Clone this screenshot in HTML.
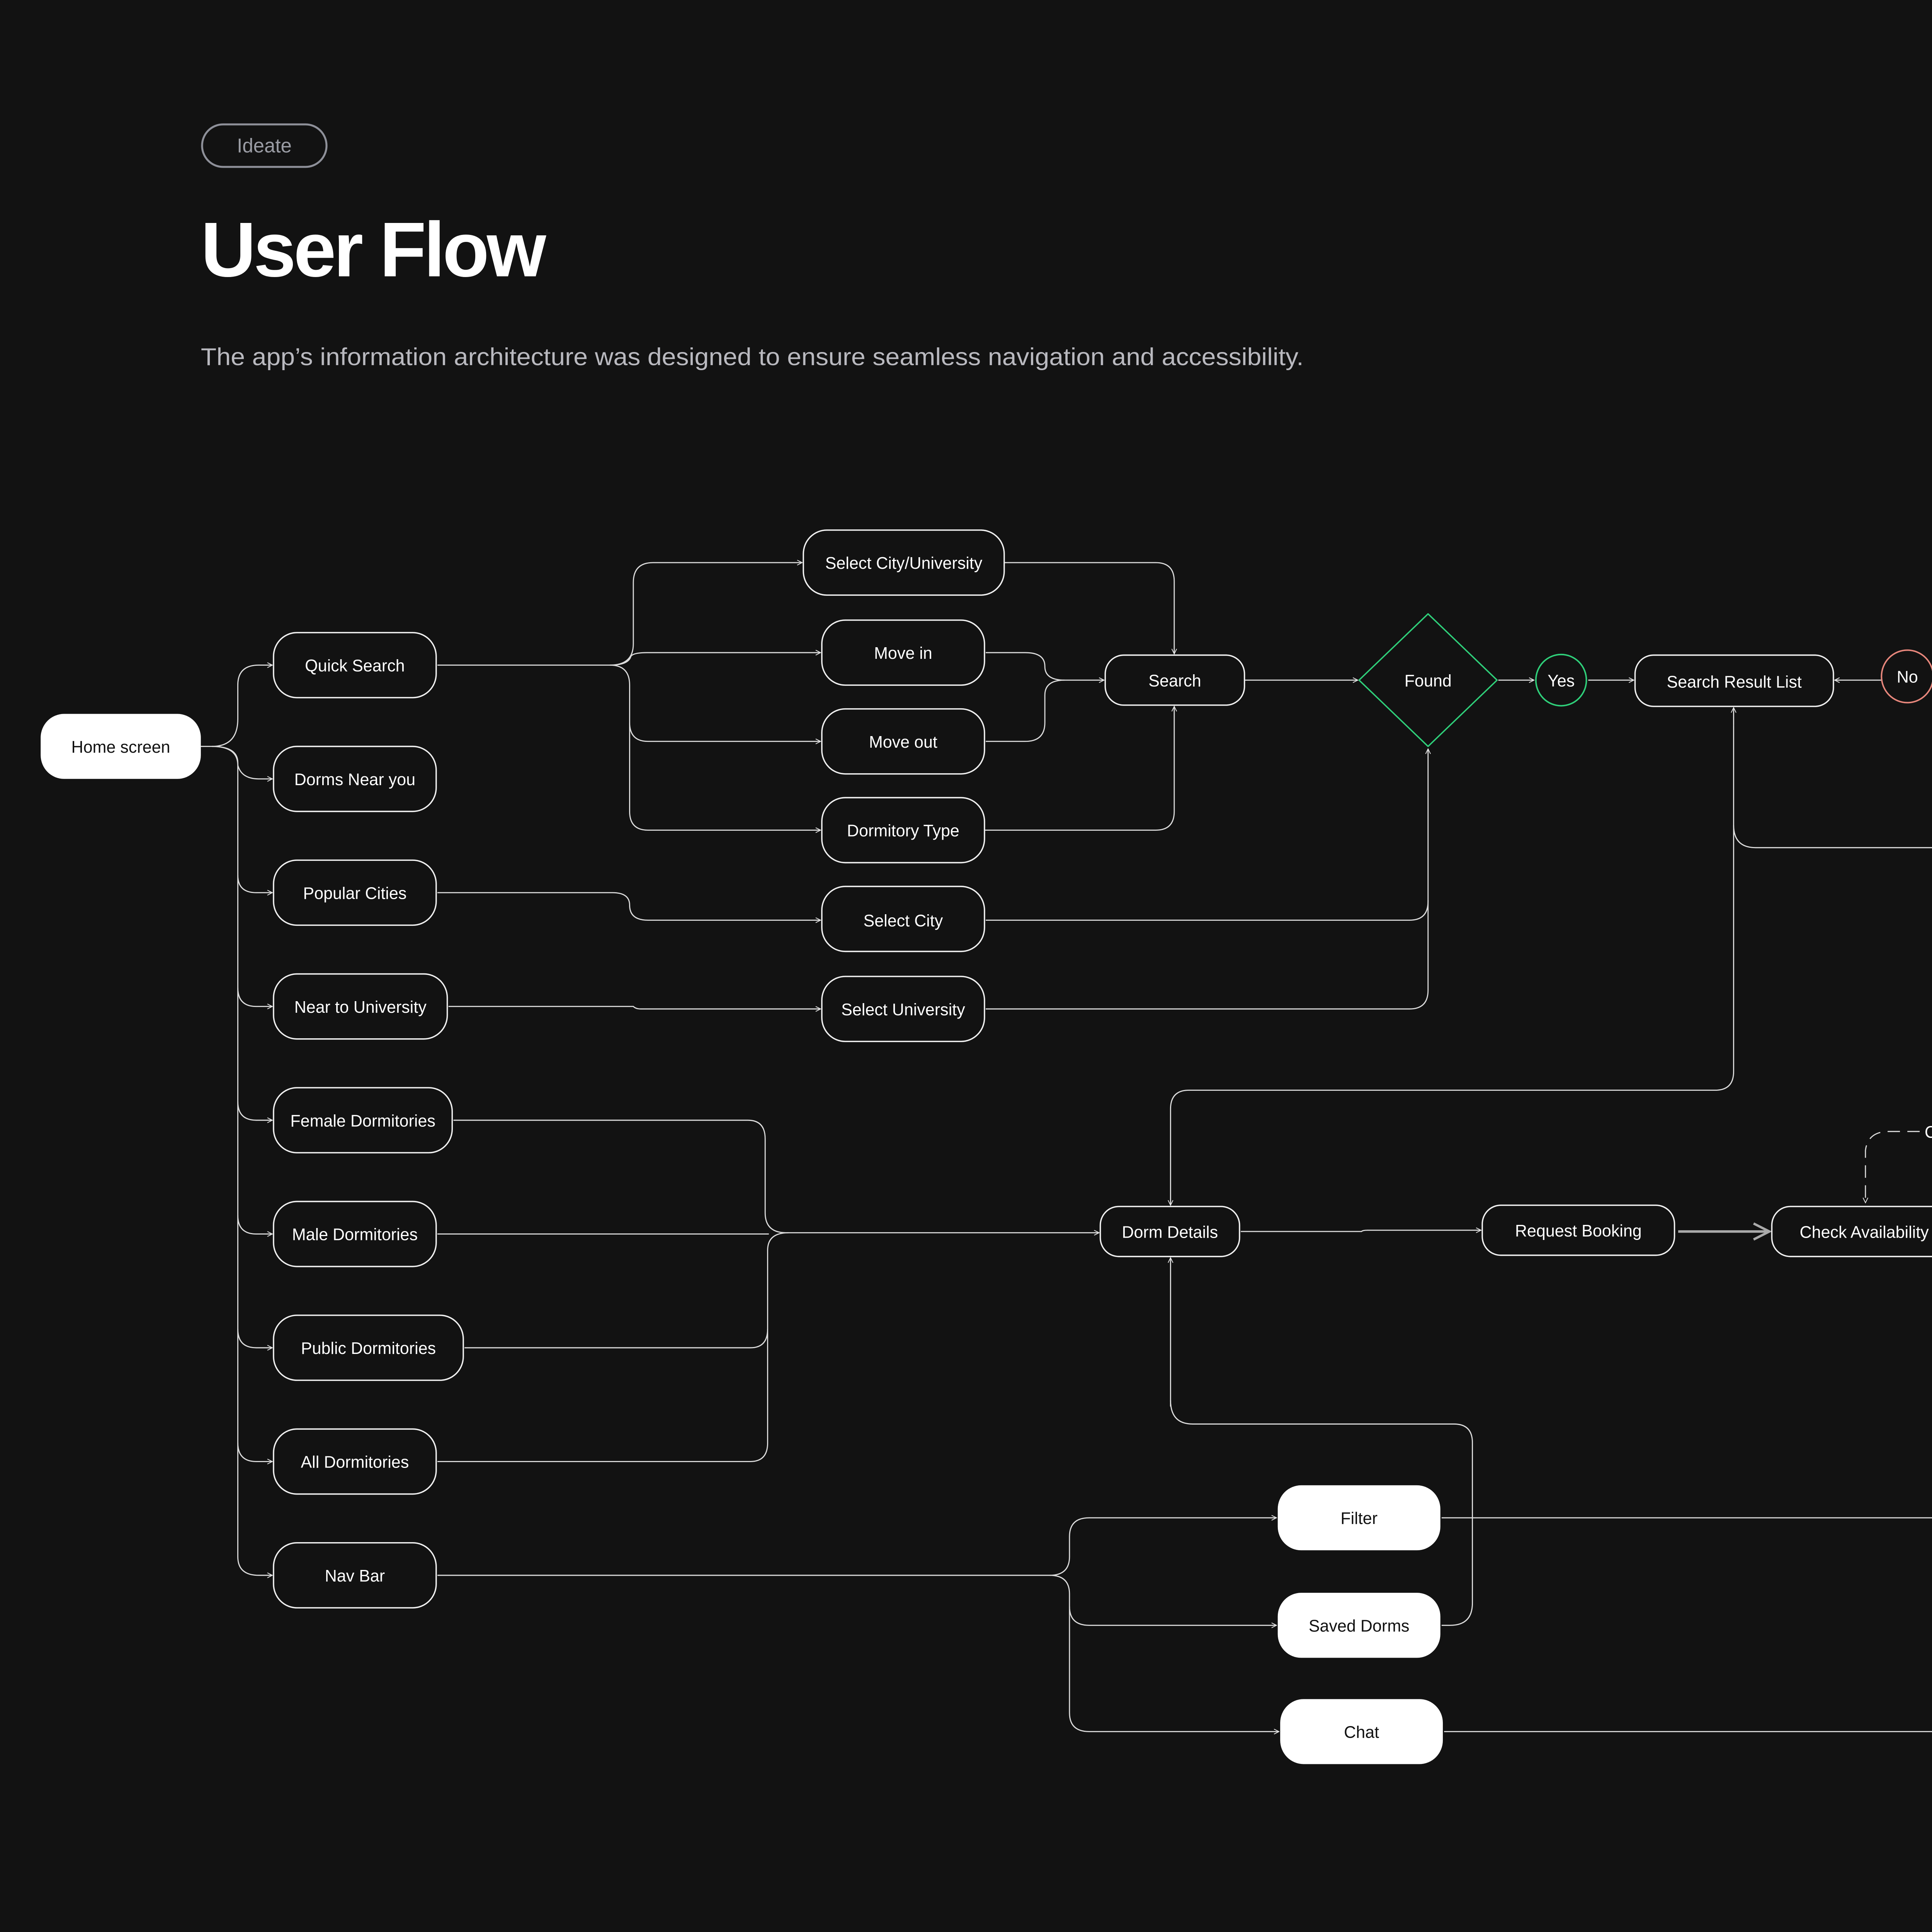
<!DOCTYPE html>
<html><head><meta charset="utf-8"><style>
html,body{margin:0;padding:0;background:#121212;width:100vw;height:100vh;overflow:hidden;}
svg{display:block;width:100vw;height:100vh;overflow:hidden;position:absolute;left:0;top:0}
text{font-family:"Liberation Sans",sans-serif;}
</style></head><body>
<svg viewBox="0 0 1568 1545.3" preserveAspectRatio="none" xmlns="http://www.w3.org/2000/svg">
<defs>
<marker id="a" viewBox="0 0 10 10" refX="9" refY="5" markerWidth="5" markerHeight="5" orient="auto" markerUnits="userSpaceOnUse"><path d="M1 1 L9 5 L1 9" fill="none" stroke="#e8e8e8" stroke-width="1.2"/></marker>
<marker id="b" viewBox="0 0 10 10" refX="9" refY="5" markerWidth="16" markerHeight="16" orient="auto" markerUnits="userSpaceOnUse"><path d="M1 1 L9 5 L1 9" fill="none" stroke="#aaa" stroke-width="1.2"/></marker>
</defs>
<rect width="1568" height="1546" fill="#121212"/>
<rect x="164" y="99.5" width="101" height="34" rx="17" fill="none" stroke="#8e9099" stroke-width="1.6"/>
<text x="214.5" y="122" font-size="16" fill="#9a9ca4" text-anchor="middle">Ideate</text>
<text x="163" y="221" font-size="62" font-weight="bold" fill="#fff" letter-spacing="-2">User Flow</text>
<text x="163" y="292" font-size="19.5" fill="#b9b9bf" textLength="895" lengthAdjust="spacingAndGlyphs">The app’s information architecture was designed to ensure seamless navigation and accessibility.</text>

<g fill="none" stroke="#dcdcdc" stroke-width="0.9">
<path d="M163 597 H172 Q193 597 193 575 V548 Q193 532 210 532 H221" marker-end="url(#a)"/>
<path d="M172 597 Q193 597 193 610 V1245 Q193 1260 210 1260 H221" marker-end="url(#a)"/>
<path d="M172 597 Q193 597 193 612 Q196 623 210 623 H221" marker-end="url(#a)"/>
<path d="M193 700 Q193 714 208 714 H221" marker-end="url(#a)"/>
<path d="M193 790 Q193 805 208 805 H221" marker-end="url(#a)"/>
<path d="M193 881 Q193 896 208 896 H221" marker-end="url(#a)"/>
<path d="M193 972 Q193 987 208 987 H221" marker-end="url(#a)"/>
<path d="M193 1063 Q193 1078 208 1078 H221" marker-end="url(#a)"/>
<path d="M193 1154 Q193 1169 208 1169 H221" marker-end="url(#a)"/>
<path d="M355 532 H495 Q514 532 514 515 V466 Q514 450 530 450 H651" marker-end="url(#a)"/>
<path d="M495 532 Q510 532 512 525 Q514 522 525 522 H666" marker-end="url(#a)"/>
<path d="M495 532 Q511 532 511 548 V578 Q511 593 526 593 H666" marker-end="url(#a)"/>
<path d="M511 578 V649 Q511 664 526 664 H666" marker-end="url(#a)"/>
<path d="M815 450 H938 Q953 450 953 465 V523" marker-end="url(#a)"/>
<path d="M799 664 H938 Q953 664 953 649 V565" marker-end="url(#a)"/>
<path d="M800 522 H832 Q848 522 848 533 Q848 544 864 544 H896" marker-end="url(#a)"/>
<path d="M800 593 H832 Q848 593 848 578 V556 Q848 544 864 544"/>
<path d="M1010 544 H1102" marker-end="url(#a)"/>
<path d="M1216 544 H1245" marker-end="url(#a)"/>
<path d="M1289 544 H1326" marker-end="url(#a)"/>
<path d="M1527 544 H1489" marker-end="url(#a)"/>
<path d="M355 714 H497 Q511 714 511 724 Q511 736 526 736 H666" marker-end="url(#a)"/>
<path d="M364 805 H514 Q516 807 520 807 H666" marker-end="url(#a)"/>
<path d="M800 736 H1144 Q1159 736 1159 721 V599" marker-end="url(#a)"/>
<path d="M800 807 H1144 Q1159 807 1159 792 V720"/>
<path d="M1407 580 V857 Q1407 872 1392 872 H965 Q950 872 950 887 V964" marker-end="url(#a)"/>
<path d="M1407 580 V566" marker-end="url(#a)"/>
<path d="M1407 660 Q1407 678 1425 678 H1568"/>
<path d="M368 896 H607 Q621 896 621 911 V970 Q621 986 638 986 H892" marker-end="url(#a)"/>
<path d="M355 987 H624"/>
<path d="M377 1078 H609 Q623 1078 623 1063 V1000 Q623 986 640 986"/>
<path d="M355 1169 H609 Q623 1169 623 1154 V1063"/>
<path d="M1007 985 H1105 Q1106 984 1110 984 H1202" marker-end="url(#a)"/>
<path d="M950 1125 V1006" marker-end="url(#a)"/>
<path d="M950 1120 Q950 1139 968 1139 H1180 Q1195 1139 1195 1154 V1282 Q1195 1300 1177 1300 H1170"/>
<path d="M355 1260 H852 Q868 1260 868 1245 V1229 Q868 1214 884 1214 H1036" marker-end="url(#a)"/>
<path d="M852 1260 Q868 1260 868 1275 V1285 Q868 1300 884 1300 H1036" marker-end="url(#a)"/>
<path d="M868 1285 V1370 Q868 1385 884 1385 H1038" marker-end="url(#a)"/>
<path d="M1170 1214 H1568"/>
<path d="M1172 1385 H1568"/>
<path d="M1558 905 H1533 Q1516 905 1514 920 V962" stroke-dasharray="10 6" marker-end="url(#a)"/>
</g>
<path d="M1362 985 H1436" stroke="#aaa" stroke-width="2" fill="none" marker-end="url(#b)"/>

<g stroke="#f0f0f0" stroke-width="1.1" fill="#121212">
<rect x="222" y="506" width="132" height="52" rx="19"/>
<rect x="222" y="597" width="132" height="52" rx="19"/>
<rect x="222" y="688" width="132" height="52" rx="19"/>
<rect x="222" y="779" width="141" height="52" rx="19"/>
<rect x="222" y="870" width="145" height="52" rx="19"/>
<rect x="222" y="961" width="132" height="52" rx="19"/>
<rect x="222" y="1052" width="154" height="52" rx="19"/>
<rect x="222" y="1143" width="132" height="52" rx="19"/>
<rect x="222" y="1234" width="132" height="52" rx="19"/>
<rect x="652" y="424" width="163" height="52" rx="19"/>
<rect x="667" y="496" width="132" height="52" rx="19"/>
<rect x="667" y="567" width="132" height="52" rx="19"/>
<rect x="667" y="638" width="132" height="52" rx="19"/>
<rect x="667" y="709" width="132" height="52" rx="19"/>
<rect x="667" y="781" width="132" height="52" rx="19"/>
<rect x="897" y="524" width="113" height="40" rx="15"/>
<rect x="1327" y="524" width="161" height="41" rx="15"/>
<rect x="893" y="965" width="113" height="40" rx="15"/>
<rect x="1203" y="964" width="156" height="40" rx="15"/>
<rect x="1438" y="965" width="150" height="40" rx="15"/>
</g>
<g fill="#fff">
<rect x="33" y="571" width="130" height="52" rx="19"/>
<rect x="1037" y="1188" width="132" height="52" rx="19"/>
<rect x="1037" y="1274" width="132" height="52" rx="19"/>
<rect x="1039" y="1359" width="132" height="52" rx="19"/>
</g>
<path d="M1159 491 L1215 544 L1159 597 L1103 544 Z" fill="#121212" stroke="#2fd07a" stroke-width="1.1" stroke-linejoin="round"/>
<circle cx="1267" cy="544" r="20.5" fill="#121212" stroke="#2fd07a" stroke-width="1.2"/>
<circle cx="1548" cy="541" r="21" fill="#121212" stroke="#e8877c" stroke-width="1.2"/>

<g font-size="13.5" fill="#fff" text-anchor="middle">
<text x="288" y="537">Quick Search</text>
<text x="288" y="628">Dorms Near you</text>
<text x="288" y="719">Popular Cities</text>
<text x="292.5" y="810">Near to University</text>
<text x="294.5" y="901">Female Dormitories</text>
<text x="288" y="992">Male Dormitories</text>
<text x="299" y="1083">Public Dormitories</text>
<text x="288" y="1174">All Dormitories</text>
<text x="288" y="1265">Nav Bar</text>
<text x="733.5" y="455">Select City/University</text>
<text x="733" y="527">Move in</text>
<text x="733" y="598">Move out</text>
<text x="733" y="669">Dormitory Type</text>
<text x="733" y="741">Select City</text>
<text x="733" y="812">Select University</text>
<text x="953.5" y="549">Search</text>
<text x="1159" y="549">Found</text>
<text x="1267" y="549">Yes</text>
<text x="1548" y="546">No</text>
<text x="1407.5" y="550">Search Result List</text>
<text x="949.5" y="990">Dorm Details</text>
<text x="1281" y="989">Request Booking</text>
<text x="1513" y="990">Check Availability</text>
</g>
<text x="1562" y="910" font-size="13.5" fill="#fff">C</text>
<g font-size="13.5" fill="#111" text-anchor="middle">
<text x="98" y="602">Home screen</text>
<text x="1103" y="1219">Filter</text>
<text x="1103" y="1305">Saved Dorms</text>
<text x="1105" y="1390">Chat</text>
</g>
</svg>
</body></html>
